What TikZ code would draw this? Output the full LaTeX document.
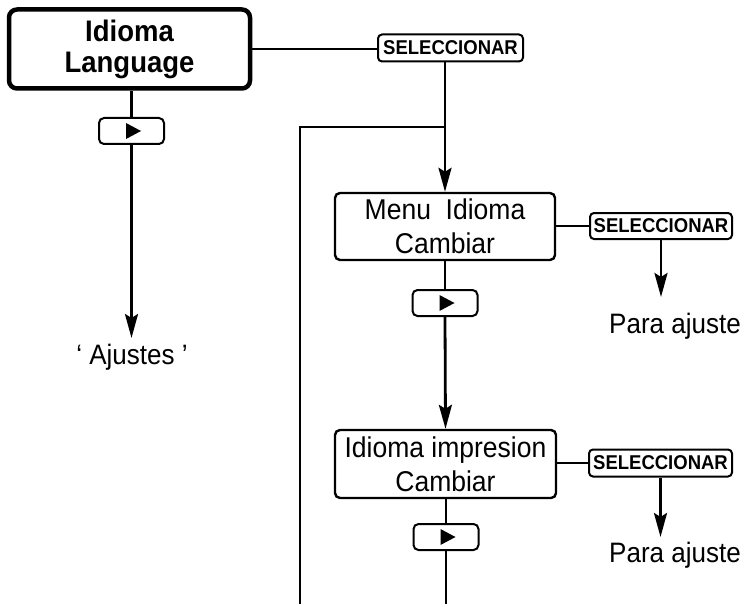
\documentclass[tikz,border=0pt]{standalone}
\usepackage{fontspec}
\setmainfont{Liberation Sans}
\usetikzlibrary{arrows.meta,calc}
\newcommand\vs[1]{\scalebox{1}[1.08]{#1}}
\begin{document}
\begin{tikzpicture}[x=1pt,y=-1pt,
 box/.style={draw,line width=2.4pt,rounded corners=5pt,inner sep=0pt,align=center,font=\fontsize{26.5}{34}\selectfont},
 topbox/.style={draw,line width=4.5pt,rounded corners=8pt,inner sep=0pt,align=center,font=\fontsize{27.5}{31}\selectfont\bfseries},
 selbox/.style={draw,line width=2pt,rounded corners=4pt,inner sep=0pt,font=\fontsize{18.5}{20}\selectfont\bfseries},
 playbox/.style={draw,line width=2pt,rounded corners=5pt,inner sep=0pt,minimum width=65pt,minimum height=26pt},
 conn/.style={line width=2.8pt},
 arr/.style={conn,-{Stealth[length=24pt,width=13pt,inset=4pt]}},
 lbl/.style={inner sep=0pt,font=\fontsize{26}{30}\selectfont}]
\useasboundingbox (0,0) rectangle (741,604);

% nodes
\node[topbox,minimum width=241pt,minimum height=79pt] (top) at (129.5,49) {\vs{Idioma}\\\vs{Language}};
\node[selbox,minimum width=145pt,minimum height=27pt] (sel1) at (450.5,48) {\vs{SELECCIONAR}};
\node[playbox] (play1) at (131.5,131) {};
\node[box,minimum width=220pt,minimum height=67pt] (menu) at (445,226.5) {\vs{Menu~~Idioma}\\\vs{Cambiar}};
\node[selbox,minimum width=142pt,minimum height=26pt] (sel2) at (661,226) {\vs{SELECCIONAR}};
\node[playbox] (play2) at (445,303) {};
\node[box,minimum width=221pt,minimum height=68pt] (imp) at (445.5,464) {\vs{Idioma impresion}\\\vs{Cambiar}};
\node[selbox,minimum width=143pt,minimum height=27pt] (sel3) at (660.5,463) {\vs{SELECCIONAR}};
\node[playbox] (play3) at (446,537) {};
\node[lbl,anchor=base] (ajustes) at (132,364) {\vs{‘ Ajustes ’}};
\node[lbl,anchor=base] (para1) at (675,333) {\vs{Para ajuste}};
\node[lbl,anchor=base] (para2) at (675,562) {\vs{Para ajuste}};

% coordinates
\coordinate (j) at (445,127);
\coordinate (jl) at (300,127);
\coordinate (bl) at (300,604);
\coordinate (b3) at (446,604);
\coordinate (t0) at (131.5,338);
\coordinate (t1) at (661,297);
\coordinate (t2) at (660.5,537);

% triangles
\foreach \p in {play1,play2,play3}
  \fill ([shift={(-5.5pt,-8pt)}]\p.center) -- ([shift={(-5.5pt,8pt)}]\p.center) -- ([shift={(9.5pt,0pt)}]\p.center) -- cycle;

% connectors
\draw[conn] (top.east) -- (top.east -| sel1.west);
\draw[conn] (top.south -| play1) -- (play1.north);
\draw[arr] (play1.south) -- (t0);
\draw[conn] (sel1.south -| j) -- (j);
\draw[arr] (j) -- (menu.north -| j);
\draw[conn] (j) -- (jl) -- (bl);
\draw[conn] (menu.east |- sel2.west) -- (sel2.west);
\draw[arr] (sel2.south) -- (t1);
\draw[conn] (menu.south) -- (play2.north);
\draw[arr] (play2.south) -- (imp.north);
\draw[conn] (imp.east |- sel3.west) -- (sel3.west);
\draw[arr] (sel3.south) -- (t2);
\draw[conn] (imp.south -| play3) -- (play3.north);
\draw[conn] (play3.south) -- (b3);
\end{tikzpicture}
\end{document}
